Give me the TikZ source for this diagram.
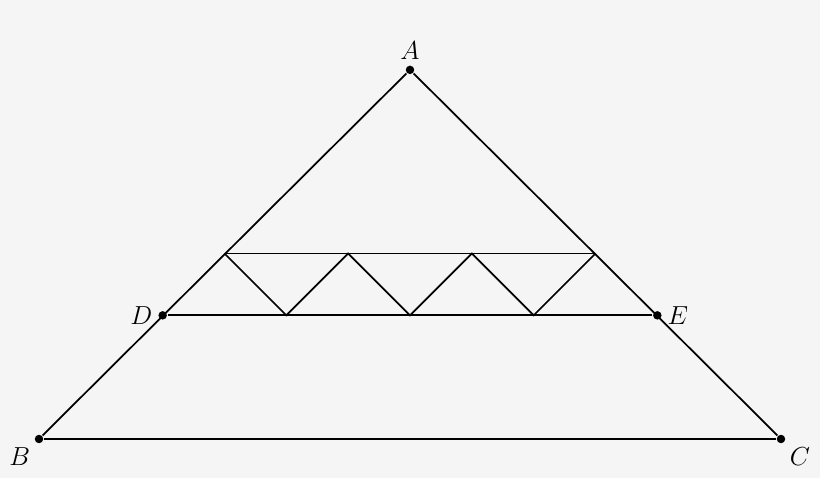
\documentclass[tikz,border=0pt]{standalone}
\definecolor{bggray}{HTML}{F5F5F5}
\begin{document}
\begin{tikzpicture}[line width=0.8pt,
        dot/.style={circle,fill=black,inner sep=0pt,minimum size=3.9pt},
        lbl/.style={font=\large,inner sep=2pt}]
        %background
        \fill[bggray] (-6.631,-0.631) rectangle (6.631,7.1);
        \useasboundingbox (-6.631,-0.631) rectangle (6.631,7.1);
        %points
        \node[dot,label={[lbl]above:$A$}] (A) at (0,5.97) {};
        \node[dot,label={[lbl]below left:$B$}] (B) at (-6,0) {};
        \node[dot,label={[lbl]below right:$C$}] (C) at (6,0) {};
        \node[dot,label={[lbl]left:$D$}] (D) at (-4,2) {};
        \node[dot,label={[lbl]right:$E$}] (E) at (4,2) {};
        %zigzag points
        \foreach \i/\x in {1/-3,2/-1,3/1,4/3}
            \coordinate (t\i) at (\x,3);
        \foreach \i/\x in {1/-2,2/0,3/2}
            \coordinate (b\i) at (\x,2);
        %triangle
        \draw (A) -- (B) -- (C) -- (A);
        \draw (D) -- (E);
        \draw (t1) -- (t4);
        \draw (t1) -- (b1) -- (t2) -- (b2) -- (t3) -- (b3) -- (t4);
    \end{tikzpicture}
\end{document}
